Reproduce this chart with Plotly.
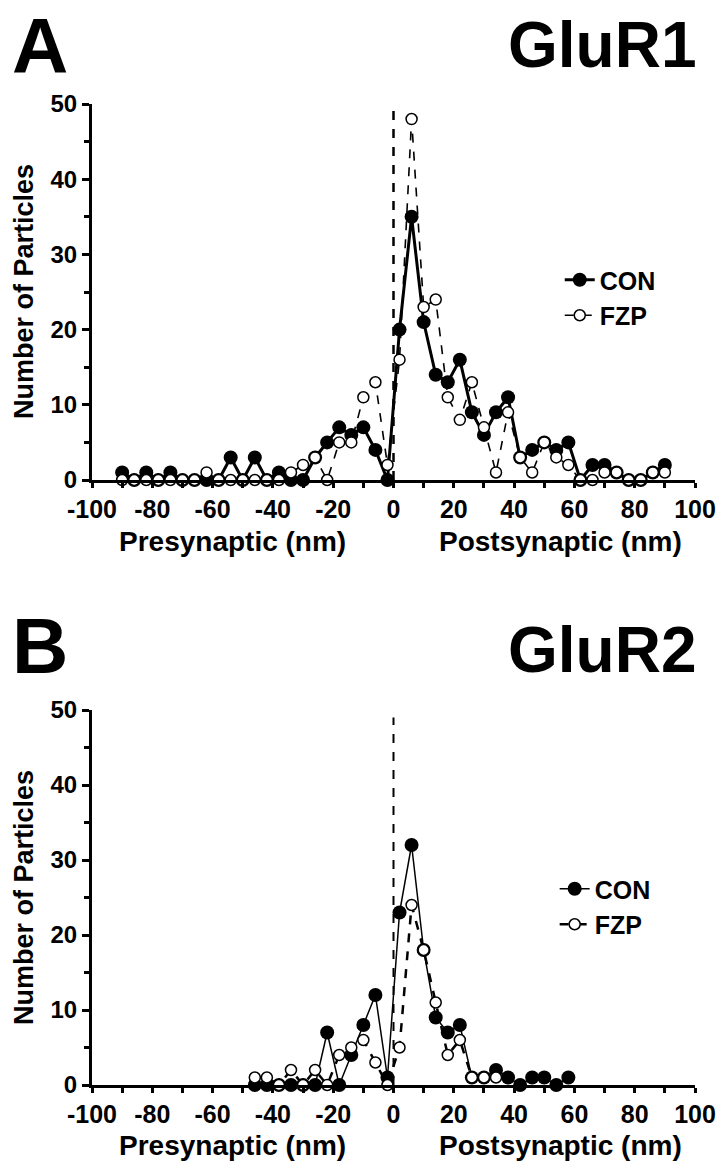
import plotly.graph_objects as go

# ---- Panel A (GluR1) ----
bins_a = [-90, -86, -82, -78, -74, -70, -66, -62, -58, -54, -50, -46, -42, -38, -34, -30,
          -26, -22, -18, -14, -10, -6, -2, 2, 6, 10, 14, 18, 22, 26, 30, 34, 38, 42, 46,
          50, 54, 58, 62, 66, 70, 74, 78, 82, 86, 90]
con_a = [1, 0, 1, 0, 1, 0, 0, 0, 0, 3, 0, 3, 0, 1, 0, 0,
         3, 5, 7, 6, 7, 4, 0, 20, 35, 21, 14, 13, 16, 9, 6, 9, 11, 3, 4,
         5, 4, 5, 0, 2, 2, 1, 0, 0, 1, 2]
fzp_a = [0, 0, 0, 0, 0, 0, 0, 1, 0, 0, 0, 0, 0, 0, 1, 2,
         3, 0, 5, 5, 11, 13, 2, 16, 48, 23, 24, 11, 8, 13, 7, 1, 9, 3, 1,
         5, 3, 2, 0, 0, 1, 1, 0, 0, 1, 1]

# ---- Panel B (GluR2) ----
bins_b_con = [-46, -42, -38, -34, -30, -26, -22, -18, -14, -10, -6, -2, 2, 6, 10, 14,
              18, 22, 26, 30, 34, 38, 42, 46, 50, 54, 58]
con_b = [0, 0, 0, 0, 0, 0, 7, 0, 4, 8, 12, 1, 23, 32, 18, 9,
         7, 8, 1, 1, 2, 1, 0, 1, 1, 0, 1]
bins_b_fzp = [-46, -42, -38, -34, -30, -26, -22, -18, -14, -10, -6, -2, 2, 6, 10, 14,
              18, 22, 26, 30, 34]
fzp_b = [1, 1, 0, 2, 0, 2, 0, 4, 5, 6, 3, 0, 5, 24, 18, 11,
         4, 6, 1, 1, 1]

x_ticks = [-100, -80, -60, -40, -20, 0, 20, 40, 60, 80, 100]
x_tick_text = ["-100", "-80", "-60", "-40", "-20", "0", "20", "40", "60", "80", "100"]
y_ticks = [0, 10, 20, 30, 40, 50]
y_tick_text = ["0", "10", "20", "30", "40", "50"]

W, H = 726, 1176
FONT = "Liberation Sans"

fig = go.Figure()

# Panel A traces
fig.add_trace(go.Scatter(x=bins_a, y=con_a, mode="lines+markers", name="CON",
                         line=dict(color="black", width=3),
                         marker=dict(symbol="circle", size=14, color="black"),
                         cliponaxis=False, xaxis="x", yaxis="y", legend="legend"))
fig.add_trace(go.Scatter(x=bins_a, y=fzp_a, mode="lines+markers", name="FZP",
                         line=dict(color="black", width=1.6, dash="dash"),
                         marker=dict(symbol="circle", size=11, color="white",
                                     line=dict(color="black", width=1.5)),
                         cliponaxis=False, xaxis="x", yaxis="y", legend="legend"))
# Panel B traces
fig.add_trace(go.Scatter(x=bins_b_con, y=con_b, mode="lines+markers", name="CON",
                         line=dict(color="black", width=1.5),
                         marker=dict(symbol="circle", size=14, color="black"),
                         cliponaxis=False, xaxis="x2", yaxis="y2", legend="legend2"))
fig.add_trace(go.Scatter(x=bins_b_fzp, y=fzp_b, mode="lines+markers", name="FZP",
                         line=dict(color="black", width=2.5, dash="dash"),
                         marker=dict(symbol="circle", size=11, color="white",
                                     line=dict(color="black", width=1.5)),
                         cliponaxis=False, xaxis="x2", yaxis="y2", legend="legend2"))

xdom = [92 / W, 695 / W]
ydom_a = [1 - 480 / H, 1 - 104 / H]
ydom_b = [1 - 1085 / H, 1 - 710 / H]

def xaxis(anchor):
    return dict(domain=xdom, anchor=anchor, range=[-100, 100], tickvals=x_ticks,
                ticktext=x_tick_text,
                showline=True, linewidth=3, linecolor="black", ticks="outside",
                ticklen=5, tickwidth=2.5, tickcolor="black", showgrid=False,
                zeroline=False, tickfont=dict(family=FONT, size=25, color="black", weight="bold"),
                minor=dict(dtick=10, tick0=0, ticks="outside", ticklen=5, tickwidth=2.5,
                           tickcolor="black", showgrid=False))

def yaxis(anchor, dom):
    return dict(domain=dom, anchor=anchor, range=[0, 50], tickvals=y_ticks,
                ticktext=y_tick_text,
                showline=True, linewidth=3, linecolor="black", ticks="outside",
                ticklen=7, tickwidth=2.5, tickcolor="black", showgrid=False,
                zeroline=False, tickfont=dict(family=FONT, size=24, color="black", weight="bold"),
                minor=dict(dtick=5, tick0=0, ticks="outside", ticklen=5, tickwidth=2.5,
                           tickcolor="black", showgrid=False))

legend_common = dict(xanchor="left", yanchor="top", bgcolor="rgba(0,0,0,0)",
                     font=dict(family=FONT, size=25, color="black", weight="bold"),
                     itemwidth=30, tracegroupgap=0)

fig.update_layout(
    width=W, height=H, margin=dict(l=0, r=0, t=0, b=0, autoexpand=False),
    paper_bgcolor="white", plot_bgcolor="white",
    xaxis=xaxis("y"), yaxis=yaxis("x", ydom_a),
    xaxis2=xaxis("y2"), yaxis2=yaxis("x2", ydom_b),
    legend=dict(x=0.771, y=1 - 257 / H, **legend_common),
    legend2=dict(x=0.764, y=1 - 866 / H, **legend_common),
    showlegend=True,
)

# vertical dashed lines at 0
fig.add_shape(type="line", xref="x", yref="y", x0=0, x1=0, y0=0, y1=50,
              line=dict(color="black", width=2.5, dash="dash"))
fig.add_shape(type="line", xref="x2", yref="y2", x0=0, x1=0, y0=0, y1=49,
              line=dict(color="black", width=2, dash="dash"))

def ann(text, x, y, size, angle=0, xanchor="center", yanchor="middle"):
    fig.add_annotation(text=text, xref="paper", yref="paper", x=x / W, y=1 - y / H,
                       xanchor=xanchor, yanchor=yanchor, showarrow=False, textangle=angle,
                       font=dict(family=FONT, size=size, color="black", weight="bold"))

# Panel letters and titles
ann("A", 10, 0, 78, xanchor="left", yanchor="top")
ann("GluR1", 698, 45, 64, xanchor="right")
ann("B", 10, 646, 78, xanchor="left")
ann("GluR2", 698, 650, 64, xanchor="right")

# Y axis titles
ann("Number of Particles", 24, 292, 27, angle=-90)
ann("Number of Particles", 24, 898, 27, angle=-90)

# X axis labels
ann("Presynaptic (nm)", 232, 541, 28)
ann("Postsynaptic (nm)", 560, 541, 28)
ann("Presynaptic (nm)", 232, 1145, 28)
ann("Postsynaptic (nm)", 560, 1145, 28)

fig.write_html("out.html", config={"displayModeBar": False},
               post_script="document.body.style.margin='0';document.body.style.overflow='hidden';")
